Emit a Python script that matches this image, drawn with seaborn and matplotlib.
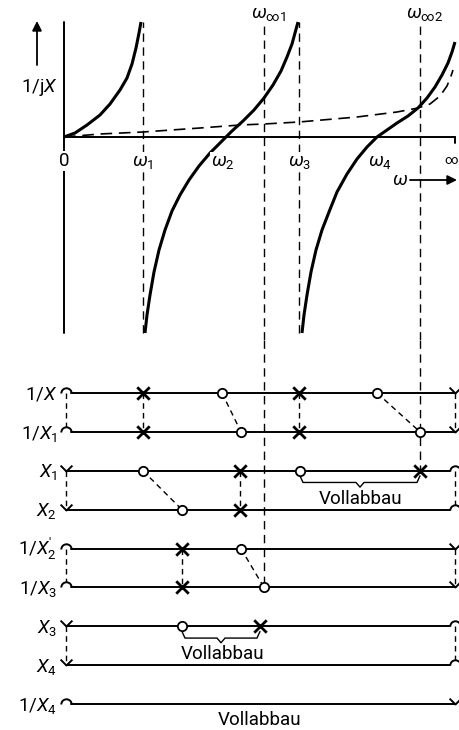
import pandas as pd
import matplotlib
matplotlib.use("Agg")
import matplotlib.pyplot as plt
from matplotlib.path import Path
import seaborn as sns

# --- Werte ---
# x = omega (Bildpunkte ab Ursprung), y = 1/jX (Bildpunkte ueber der Achse)
omega_labels = [r'$0$', r'$\omega_1$', r'$\omega_2$', r'$\omega_3$', r'$\omega_4$']
omega_pos = [0, 79, 159, 236, 316]
inf_label, inf_pos = r'$\infty$', 387
omega_inf_labels = [r'$\omega_{\infty 1}$', r'$\omega_{\infty 2}$']
omega_inf_pos = [200, 356]
pole_lines = [79, 235]          # gestrichelte Senkrechte an den Polen von 1/jX

branch1_w = [0, 11, 23, 36, 46, 56, 63, 68, 72, 75, 77]
branch1_y = [0, 4, 12, 22, 33, 47, 59, 73, 89, 104, 115]
branch2_w = [81, 83, 86, 90, 95, 101, 108, 116, 125, 135, 146, 157, 168, 179, 190, 200, 209, 217, 223, 228, 231, 234]
branch2_y = [-196, -178, -158, -135, -113, -93, -74, -58, -43, -29, -16, -5, 6, 16, 27, 39, 52, 66, 80, 93, 104, 115]
branch3_w = [238, 240, 243, 247, 252, 258, 265, 273, 283, 293, 303, 313, 323, 333, 344, 354, 363, 371, 378, 384, 388, 391]
branch3_y = [-196, -178, -158, -135, -113, -93, -75, -55, -37, -22, -10, 0, 7, 14, 21, 29, 39, 50, 62, 74, 85, 95]
dashed_w = [0, 36, 79, 136, 176, 200, 235, 293, 333, 354, 366, 376, 383, 387, 389]
dashed_y = [0, 3, 5, 9, 12, 13, 15, 20, 25, 29, 33, 41, 51, 61, 67]

# Pol-/Nullstellenschema
row_labels = [r'$1/X$', r'$1/X_1$', r'$X_1$', r'$X_2$', r"$1/X_2'$",
              r'$1/X_3$', r'$X_3$', r'$X_4$', r'$1/X_4$']
row_admittance = [True, True, False, False, True, True, False, False, True]

pole_row = [0, 0, 1, 1, 2, 2, 3, 4, 5, 6]
pole_w = [79, 235, 79, 235, 176, 356, 176, 118, 118, 196]
zero_row = [0, 0, 1, 1, 2, 2, 3, 4, 5, 6]
zero_w = [158, 313, 177, 356, 79, 236, 118, 177, 200, 118]

link_row = [0, 0, 0, 0, 2, 2, 4, 4]
link_from = [79, 235, 158, 313, 79, 176, 118, 177]
link_to = [79, 235, 177, 356, 118, 176, 118, 200]
end_link_rows = [0, 2, 4, 6]

inf_line_end_row = [5, 2]       # bis wohin omega_inf1 / omega_inf2 nach unten laufen

brace_row = [2, 6]
brace_from = [236, 118]
brace_to = [356, 196]
vollabbau_w = [297, 159, 196]
vollabbau_row = [2.72, 6.70, 8.40]

W0, WINF = 2, 391   # Enden der Zeilen

# --- Stil ---
sns.set_theme(style='white')
plt.rcParams['font.family'] = ['Roboto', 'DejaVu Sans']
plt.rcParams['text.color'] = 'black'
plt.rcParams['mathtext.fontset'] = 'custom'
plt.rcParams['mathtext.rm'] = 'Roboto'
plt.rcParams['mathtext.it'] = 'Roboto:italic'
plt.rcParams['mathtext.bf'] = 'Roboto:bold'

FS = 13.5
LW_AX = 1.4
LW_CURVE = 2.2
LW_DASH = 1.0
white_box = dict(facecolor='white', edgecolor='none', pad=0.5)

half_circle = Path.arc(0, 180)
half_cross = Path([(-1, 1), (0, 0), (1, 1)], [Path.MOVETO, Path.LINETO, Path.LINETO])

fig = plt.figure(figsize=(4.6, 7.3), dpi=100)
ax_top = fig.add_axes([0, 1 - 340 / 730, 1, 340 / 730])
ax_bot = fig.add_axes([0, 0, 1, 390 / 730])
for ax in (ax_top, ax_bot):
    ax.set_xlim(-64, 396)
    ax.set_axis_off()
ax_top.set_ylim(-203, 137)
ax_bot.set_ylim(8.663, -1.362)

# --- oberes Bild: 1/jX ueber omega ---
ax_top.plot([0, WINF], [0, 0], color='black', lw=LW_AX)
ax_top.plot([WINF, WINF], [0, -6], color='black', lw=LW_AX)
ax_top.plot([0, 0], [-196, 115], color='black', lw=LW_AX)

for w in pole_lines:
    ax_top.plot([w, w], [-196, 115], color='black', lw=LW_DASH, ls=(0, (6, 4)))
for w in omega_inf_pos:
    ax_top.plot([w, w], [-203, 112], color='black', lw=LW_DASH, ls=(0, (6, 4)))

for bw, by in [(branch1_w, branch1_y), (branch2_w, branch2_y), (branch3_w, branch3_y)]:
    sns.lineplot(x=bw, y=by, ax=ax_top, color='black', lw=LW_CURVE,
                 estimator=None, sort=False, solid_capstyle='butt')
sns.lineplot(x=dashed_w, y=dashed_y, ax=ax_top, color='black', lw=LW_DASH + 0.2,
             estimator=None, sort=False, ls=(0, (7, 4)))

for lab, w in zip(omega_labels, omega_pos):
    ax_top.text(w, -29, lab, fontsize=FS, ha='center', va='baseline',
                bbox=white_box, zorder=5)
ax_top.text(inf_pos, -27, inf_label, fontsize=9.5, ha='center', va='baseline')
for lab, w in zip(omega_inf_labels, omega_inf_pos):
    ax_top.text(w + 5, 119, lab, fontsize=FS, ha='center', va='baseline')

ax_top.annotate('', xy=(-27, 116), xytext=(-27, 72),
                arrowprops=dict(arrowstyle='-|>', color='black', lw=1.3,
                                mutation_scale=14, shrinkA=0, shrinkB=0))
ax_top.text(-25, 45, r'$1/\mathrm{j}X$', fontsize=FS, ha='center', va='baseline')
ax_top.text(336, -48, r'$\omega$', fontsize=FS, ha='center', va='baseline')
ax_top.annotate('', xy=(393, -43), xytext=(346, -43),
                arrowprops=dict(arrowstyle='-|>', color='black', lw=1.3,
                                mutation_scale=14, shrinkA=0, shrinkB=0))

# --- unteres Bild: Pol-/Nullstellenschema ---
for w, r_end in zip(omega_inf_pos, inf_line_end_row):
    ax_bot.plot([w, w], [-1.362, r_end], color='black', lw=LW_DASH, ls=(0, (6, 4)), zorder=1)

rad = 5
for i, (lab, adm) in enumerate(zip(row_labels, row_admittance)):
    if adm:
        ax_bot.plot([W0 + rad, WINF], [i, i], color='black', lw=LW_AX)
        left, right = half_circle, half_cross
    else:
        ax_bot.plot([W0, WINF - rad], [i, i], color='black', lw=LW_AX)
        left, right = half_cross, half_circle
    for w, m in [(W0, left), (WINF, right)]:
        ms = 7.5 if m is half_circle else 8.5
        ax_bot.plot([w], [i], ls='none', marker=m, ms=ms, mfc='none',
                    mec='black', mew=1.4)
    ax_bot.text(-7, i + 0.17, lab, fontsize=FS, ha='right', va='baseline')

for r in end_link_rows:
    for w, adm in [(W0, row_admittance[r + 1]), (WINF, not row_admittance[r + 1])]:
        y_end = r + 1 - (0.13 if adm else 0.0)
        ax_bot.plot([w, w], [r, y_end], color='black', lw=LW_DASH, ls=(0, (4, 3)))

for r, a, b in zip(link_row, link_from, link_to):
    ax_bot.plot([a, b], [r, r + 1], color='black', lw=LW_DASH, ls=(0, (4, 3)), zorder=1)

poles = pd.DataFrame({'w': pole_w, 'row': pole_row})
zeros = pd.DataFrame({'w': zero_w, 'row': zero_row})
sns.scatterplot(data=poles, x='w', y='row', ax=ax_bot, marker='x', s=80,
                color='black', linewidth=2.0, zorder=4)
sns.scatterplot(data=zeros, x='w', y='row', ax=ax_bot, marker='o', s=45,
                color='white', edgecolor='black', linewidth=1.3, zorder=4)

for r, a, b in zip(brace_row, brace_from, brace_to):
    m = (a + b) / 2
    bx = [a, a + 3, m - 4, m, m + 4, b - 3, b]
    by = [r + 0.13, r + 0.30, r + 0.30, r + 0.42, r + 0.30, r + 0.30, r + 0.13]
    ax_bot.plot(bx, by, color='black', lw=1.0)

for w, r in zip(vollabbau_w, vollabbau_row):
    ax_bot.text(w, r, 'Vollabbau', fontsize=FS, ha='center', va='center')

ax_bot.set_xlabel('')
ax_bot.set_ylabel('')
ax_top.set_xlabel('')
ax_top.set_ylabel('')

fig.savefig('out.png', dpi=100, facecolor='white')
